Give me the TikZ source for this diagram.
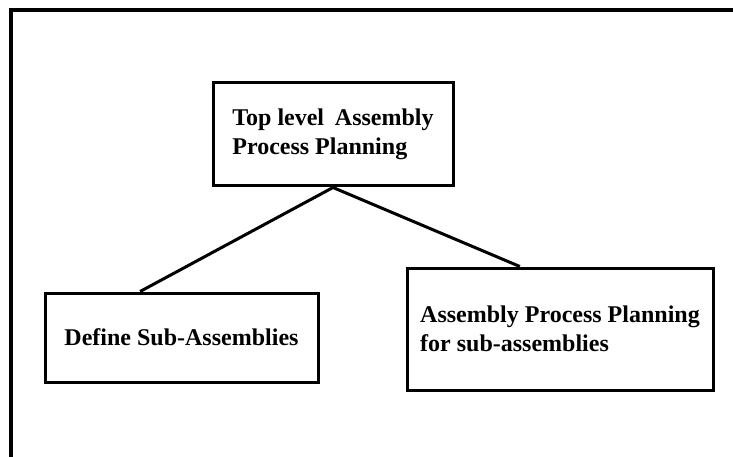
\documentclass[tikz,border=0pt]{standalone}
\usepackage{fontspec}
\setmainfont{Liberation Serif}
\usetikzlibrary{calc}
\begin{document}
\begin{tikzpicture}[x=1pt,y=-1pt,
  box/.style={draw, line width=3pt, inner sep=0pt, align=left,
    font=\fontsize{24}{29}\selectfont\bfseries},
  link/.style={line width=3pt},
  frame/.style={line width=3.2pt}]
\useasboundingbox (0,0) rectangle (733,457);
% open frame along the left and top edges
\draw[frame] (11,457) -- (11,10) -- (733,10);
% the three planning boxes
\node[box, minimum width=240pt, minimum height=103pt] (top) at (333,134.5)
  {Top level\hspace{0.45em}Assembly\\Process Planning};
\node[box, minimum width=273pt, minimum height=89pt] (define) at (181.5,337.5)
  {Define Sub-Assemblies};
\node[box, minimum width=306pt, minimum height=122pt] (sub) at (560,329)
  {Assembly Process Planning\\for sub-assemblies};
% tree connectors
\coordinate (dl) at ($(define.north west)!0.35!(define.north east)$);
\coordinate (sr) at ($(sub.north west)!0.37!(sub.north east)$);
\draw[link] (top.south) -- (dl);
\draw[link] (top.south) -- (sr);
\end{tikzpicture}
\end{document}
